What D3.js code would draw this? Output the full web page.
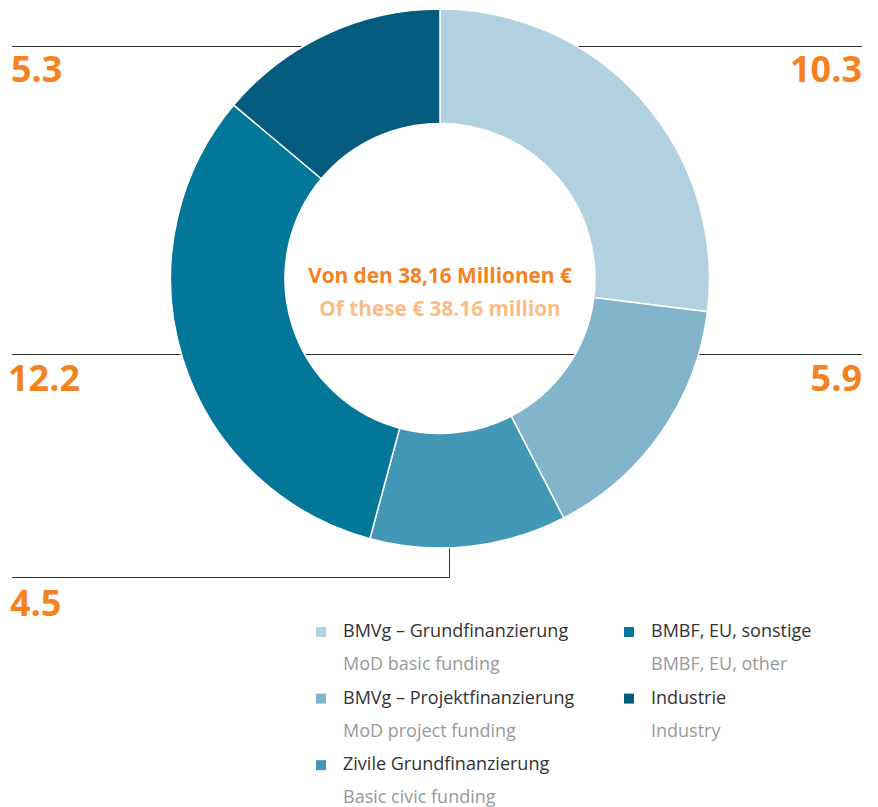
<!DOCTYPE html>
<html>
<head>
<meta charset="utf-8">
<script src="https://cdn.jsdelivr.net/npm/d3@7"></script>
<style>
  body { margin: 0; background: #fff; }
  svg { display: block; font-family: "Open Sans", sans-serif; }
</style>
</head>
<body>
<svg id="chart" width="878" height="807"></svg>
<script>
// funding sources, in millions of euro
const categoriesDe = ["BMVg – Grundfinanzierung", "BMVg – Projektfinanzierung", "Zivile Grundfinanzierung", "BMBF, EU, sonstige", "Industrie"];
const categoriesEn = ["MoD basic funding", "MoD project funding", "Basic civic funding", "BMBF, EU, other", "Industry"];
const values = [10.3, 5.9, 4.5, 12.2, 5.3];
const colors = ["#b1d1e0", "#82b4cc", "#4197b4", "#027799", "#035c7d"];
const centerTitle = ["Von den 38,16 Millionen €", "Of these € 38.16 million"];

const svg = d3.select("#chart");
const cx = 440, cy = 278.5;
const rOuter = 269.5, rInner = 155;
const orange = "#f5821f";

// leader lines sit behind the donut
const leaders = svg.append("g")
  .attr("stroke", "#333")
  .attr("stroke-width", 1)
  .attr("fill", "none");
leaders.append("line").attr("x1", 12).attr("x2", 862).attr("y1", 46.5).attr("y2", 46.5);
leaders.append("line").attr("x1", 12).attr("x2", 862).attr("y1", 354.5).attr("y2", 354.5);
leaders.append("path").attr("d", `M12,577.5H449.5V540`);

const pie = d3.pie().sort(null).value(d => d);
const arc = d3.arc().innerRadius(rInner).outerRadius(rOuter);

const g = svg.append("g").attr("transform", `translate(${cx},${cy})`);
g.selectAll("path")
  .data(pie(values))
  .join("path")
  .attr("d", arc)
  .attr("fill", (d, i) => colors[i])
  .attr("stroke", "#fff")
  .attr("stroke-width", 1.5);

// value labels
const labelPos = [
  { x: 862, y: 82, anchor: "end" },
  { x: 862, y: 391, anchor: "end" },
  { x: 10, y: 616, anchor: "start" },
  { x: 8, y: 391, anchor: "start" },
  { x: 11, y: 82, anchor: "start" }
];
svg.append("g")
  .selectAll("text")
  .data(values)
  .join("text")
  .attr("x", (d, i) => labelPos[i].x)
  .attr("y", (d, i) => labelPos[i].y)
  .attr("text-anchor", (d, i) => labelPos[i].anchor)
  .attr("fill", orange)
  .attr("font-size", 36)
  .attr("font-weight", 700)
  .text(d => d3.format(".1f")(d));

// centre caption
svg.append("text")
  .attr("x", cx).attr("y", 283)
  .attr("text-anchor", "middle")
  .attr("fill", orange)
  .attr("font-size", 20.8)
  .attr("font-weight", 700)
  .text(centerTitle[0]);
svg.append("text")
  .attr("x", cx).attr("y", 315.5)
  .attr("text-anchor", "middle")
  .attr("fill", "#fbbd87")
  .attr("font-size", 20.8)
  .attr("font-weight", 700)
  .text(centerTitle[1]);

// legend
const legendCols = [316, 624];
const rowStep = 66.6;
const legend = svg.append("g")
  .selectAll("g")
  .data(categoriesDe)
  .join("g")
  .attr("transform", (d, i) => {
    const col = i < 3 ? 0 : 1;
    const row = i < 3 ? i : i - 3;
    return `translate(${legendCols[col]},${637 + row * rowStep})`;
  });
legend.append("rect")
  .attr("x", 0).attr("y", -10)
  .attr("width", 10).attr("height", 10)
  .attr("fill", (d, i) => colors[i]);
legend.append("text")
  .attr("x", 27).attr("y", 0)
  .attr("fill", "#333")
  .attr("font-size", 18)
  .attr("font-weight", 400)
  .text(d => d);
legend.append("text")
  .attr("x", 27).attr("y", 33.3)
  .attr("fill", "#999")
  .attr("font-size", 18)
  .attr("font-weight", 400)
  .text((d, i) => categoriesEn[i]);
</script>
</body>
</html>
